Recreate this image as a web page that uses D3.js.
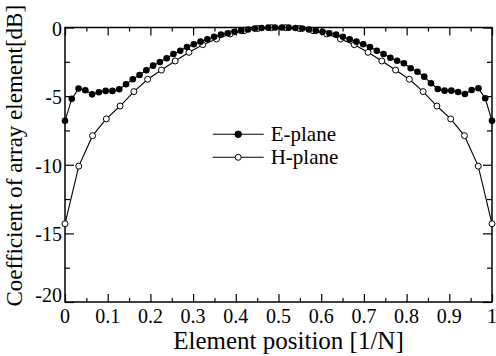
<!DOCTYPE html>
<html>
<head>
<meta charset="utf-8">
<script src="https://cdn.jsdelivr.net/npm/d3@7"></script>
<style>
  body { margin: 0; background: #fff; }
  svg, svg text { font-family: 'Liberation Serif', 'Times New Roman', Times, serif; }
</style>
</head>
<body>
<svg id="plot" width="496" height="356"></svg>
<script>
// E-plane: 64 elements, H-plane: 32 elements (dB)
const ePlane = [
  -6.8, -5.2, -4.45, -4.57, -4.87, -4.72, -4.62, -4.62, -4.5, -4.14, -3.77, -3.46, -3.12, -2.78, -2.51, -2.24,
  -1.93, -1.69, -1.42, -1.22, -1.03, -0.86, -0.67, -0.52, -0.42, -0.31, -0.23, -0.15, -0.08, -0.04, -0.01, 0,
  0, -0.01, -0.04, -0.08, -0.15, -0.23, -0.31, -0.42, -0.52, -0.67, -0.86, -1.03, -1.22, -1.42, -1.69, -1.93,
  -2.2, -2.42, -2.61, -2.97, -3.22, -3.58, -4.06, -4.48, -4.6, -4.6, -4.7, -4.84, -4.55, -4.43, -5.16, -6.8
];
const hPlane = [
  -14.3, -10.1, -7.88, -6.66, -5.72, -4.67, -3.77, -3.1, -2.44, -1.81, -1.25, -0.84, -0.47, -0.23, -0.07, -0.01,
  -0.01, -0.07, -0.23, -0.47, -0.84, -1.25, -1.81, -2.44, -3.1, -3.77, -4.67, -5.72, -6.66, -7.88, -10.1, -14.3
];
const xTicks = [0, 0.1, 0.2, 0.3, 0.4, 0.5, 0.6, 0.7, 0.8, 0.9, 1];
const xTickLabels = ['0', '0.1', '0.2', '0.3', '0.4', '0.5', '0.6', '0.7', '0.8', '0.9', '1'];
const xMinor = [0.05, 0.15, 0.25, 0.35, 0.45, 0.55, 0.65, 0.75, 0.85, 0.95];
const yTicks = [0, -5, -10, -15, -20];
const yMinor = [-2.5, -7.5, -12.5, -17.5];
const seriesNames = ['E-plane', 'H-plane'];

const W = 496, H = 356;
const margin = {top: 27.5, right: 4, bottom: 54, left: 65};
const innerW = W - margin.left - margin.right;
const innerH = H - margin.top - margin.bottom;

const svg = d3.select('#plot');
const g = svg.append('g').attr('transform', `translate(${margin.left},${margin.top})`);

const x = d3.scaleLinear().domain([0, 1]).range([0, innerW]);
const y = d3.scaleLinear().domain([-20, 0]).range([innerH, 0]);

// inward ticks on all four sides
function ticks(axisFn, vals, size, tr) {
    const a = g.append('g').attr('transform', tr)
        .call(axisFn.tickValues(vals).tickSize(-size).tickFormat(''));
    a.select('.domain').remove();
    a.selectAll('line').attr('stroke', '#000').attr('stroke-width', 1.2);
}
ticks(d3.axisBottom(x), xTicks, 8, `translate(0,${innerH})`);
ticks(d3.axisBottom(x), xMinor, 4, `translate(0,${innerH})`);
ticks(d3.axisTop(x), xTicks, 8, 'translate(0,0)');
ticks(d3.axisTop(x), xMinor, 4, 'translate(0,0)');
ticks(d3.axisLeft(y), yTicks, 9, 'translate(0,0)');
ticks(d3.axisLeft(y), yMinor, 5, 'translate(0,0)');
ticks(d3.axisRight(y), yTicks, 9, `translate(${innerW},0)`);
ticks(d3.axisRight(y), yMinor, 5, `translate(${innerW},0)`);

g.append('rect')
    .attr('width', innerW).attr('height', innerH)
    .attr('fill', 'none').attr('stroke', '#000').attr('stroke-width', 1.5);

// tick labels
g.selectAll('.xl').data(xTicks).enter().append('text')
    .attr('x', (d) => x(d)).attr('y', innerH + 21)
    .attr('text-anchor', 'middle').attr('font-size', 20)
    .text((d, i) => xTickLabels[i]);
g.selectAll('.yl').data(yTicks).enter().append('text')
    .attr('x', -3).attr('y', (d) => y(d) + (d === -20 ? 0 : 8))
    .attr('text-anchor', 'end').attr('font-size', 20)
    .text((d) => d);

// axis titles
g.append('text')
    .attr('x', innerW / 2 + 10).attr('y', innerH + 47)
    .attr('text-anchor', 'middle').attr('font-size', 25)
    .text('Element position [1/N]');
g.append('text')
    .attr('transform', `translate(${-43},${innerH / 2 - 9}) rotate(-90)`)
    .attr('text-anchor', 'middle').attr('font-size', 23)
    .text('Coefficient of array element[dB]');

// series
const line = d3.line().x((d) => x(d[0])).y((d) => y(d[1]));
const ePts = ePlane.map((v, i) => [i / (ePlane.length - 1), v]);
const hPts = hPlane.map((v, i) => [i / (hPlane.length - 1), v]);

g.append('path').datum(hPts).attr('d', line)
    .attr('fill', 'none').attr('stroke', '#000').attr('stroke-width', 1.1);
g.append('path').datum(ePts).attr('d', line)
    .attr('fill', 'none').attr('stroke', '#000').attr('stroke-width', 1.1);

g.selectAll('.hp').data(hPts).enter().append('circle')
    .attr('cx', (d) => x(d[0])).attr('cy', (d) => y(d[1])).attr('r', 3)
    .attr('fill', '#fff').attr('stroke', '#000').attr('stroke-width', 1);
g.selectAll('.ep').data(ePts).enter().append('circle')
    .attr('cx', (d) => x(d[0])).attr('cy', (d) => y(d[1])).attr('r', 3.3)
    .attr('fill', '#000');

// legend
const legend = g.append('g').attr('transform', `translate(${212.7 - margin.left},${134.3 - margin.top})`);
seriesNames.forEach((name, i) => {
    const row = legend.append('g').attr('transform', `translate(0,${i * 23})`);
    row.append('line').attr('x1', 0).attr('x2', 51).attr('y1', 0).attr('y2', 0)
        .attr('stroke', '#000').attr('stroke-width', 1.1);
    row.append('circle').attr('cx', 25.5).attr('cy', 0).attr('r', i === 0 ? 3.3 : 3)
        .attr('fill', i === 0 ? '#000' : '#fff').attr('stroke', '#000').attr('stroke-width', 1);
    row.append('text').attr('x', 58).attr('y', 7).attr('font-size', 21).text(name);
});
</script>
</body>
</html>
